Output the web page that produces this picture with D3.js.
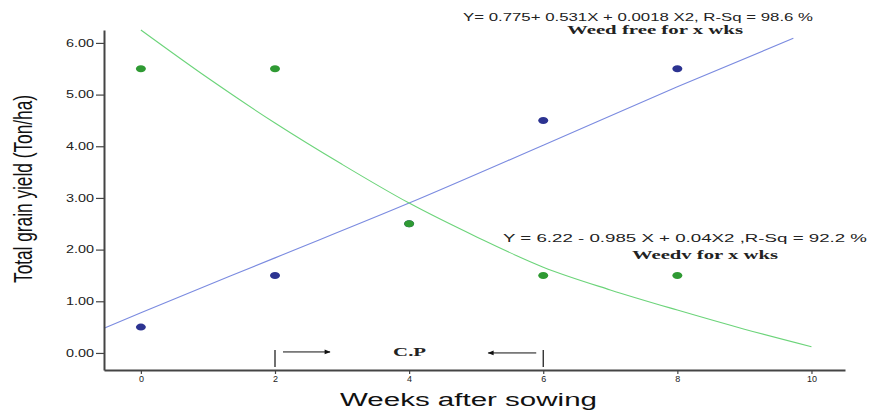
<!DOCTYPE html>
<html>
<head>
<meta charset="utf-8">
<script src="https://cdn.jsdelivr.net/npm/d3@7"></script>
<style>
  body { margin: 0; background: #fff; }
  svg { display: block; }
</style>
</head>
<body>
<div id="chart"></div>
<script>
// observed yields (Ton/ha) by weeks after sowing
var weeks = [0, 2, 4, 6, 8]
var weedFree = [0.5, 1.5, 2.5, 4.5, 5.5]
var weedy = [5.5, 5.5, 2.5, 1.5, 1.5]

// fitted curves
var weedFreeFitX = [-0.55, 0, 2, 4, 6, 8, 9.73]
var weedFreeFitY = [0.48, 0.78, 1.84, 2.9, 4.02, 5.15, 6.09]
var weedyFitX = [0, 1, 2, 3, 4, 5, 6, 7, 8, 9, 10]
var weedyFitY = [6.25, 5.32, 4.45, 3.65, 2.9, 2.25, 1.66, 1.22, 0.83, 0.46, 0.12]

var xTicks = [0, 2, 4, 6, 8, 10]
var yTicks = [0, 1, 2, 3, 4, 5, 6]
var cpWeeks = [2, 6]

var eqFree = 'Y= 0.775+ 0.531X + 0.0018 X2, R-Sq = 98.6 %'
var eqWeedy = 'Y = 6.22 - 0.985 X + 0.04X2 ,R-Sq = 92.2 %'

var margin = { top: 30, left: 104, right: 28, bottom: 43 }
var width = 873 - margin.left - margin.right
var height = 413 - margin.top - margin.bottom

var svg = d3.select('#chart')
  .append('svg')
  .attr('width', 873)
  .attr('height', 413)

var g = svg.append('g')
  .attr('transform', 'translate(' + margin.left + ',' + margin.top + ')')

var xPositionScale = d3.scaleLinear().domain([-0.55, 10.5]).range([0, width])
var yPositionScale = d3.scaleLinear().domain([-0.33, 6.25]).range([height, 0])

var line = d3.line()
  .x(function(d) { return xPositionScale(d[0]) })
  .y(function(d) { return yPositionScale(d[1]) })

// fit lines
g.append('path')
  .datum(d3.zip(weedFreeFitX, weedFreeFitY))
  .attr('d', line.curve(d3.curveMonotoneX))
  .attr('fill', 'none')
  .attr('stroke', '#7b8be0')
  .attr('stroke-width', 1.1)

g.append('path')
  .datum(d3.zip(weedyFitX, weedyFitY))
  .attr('d', line.curve(d3.curveMonotoneX))
  .attr('fill', 'none')
  .attr('stroke', '#6cd47a')
  .attr('stroke-width', 1.1)

// points
g.selectAll('.free-dot')
  .data(d3.zip(weeks, weedFree))
  .enter()
  .append('ellipse')
  .attr('class', 'free-dot')
  .attr('cx', function(d) { return xPositionScale(d[0]) })
  .attr('cy', function(d) { return yPositionScale(d[1]) })
  .attr('rx', 5)
  .attr('ry', 3.5)
  .attr('fill', '#2c3391')

g.selectAll('.weedy-dot')
  .data(d3.zip(weeks, weedy))
  .enter()
  .append('ellipse')
  .attr('class', 'weedy-dot')
  .attr('cx', function(d) { return xPositionScale(d[0]) })
  .attr('cy', function(d) { return yPositionScale(d[1]) })
  .attr('rx', 5)
  .attr('ry', 3.5)
  .attr('fill', '#2f9a33')

// axes
var xAxis = d3.axisBottom(xPositionScale).tickValues(xTicks).tickSize(4).tickSizeOuter(0)
g.append('g')
  .attr('class', 'axis x-axis')
  .attr('transform', 'translate(0,' + height + ')')
  .call(xAxis)

var yAxis = d3.axisLeft(yPositionScale).tickValues(yTicks).tickFormat(d3.format('.2f')).tickSize(8).tickSizeOuter(0)
g.append('g')
  .attr('class', 'axis y-axis')
  .call(yAxis)

g.selectAll('.axis .domain').attr('stroke', '#444').attr('stroke-width', 2)
g.selectAll('.axis .tick line').attr('stroke', '#444').attr('stroke-width', 1.2)
g.selectAll('.axis text')
  .attr('font-family', 'Liberation Sans, Arial, sans-serif')
  .attr('fill', '#222')
g.selectAll('.x-axis text').attr('font-size', 9).attr('y', 6).attr('dy', '0.71em')
g.selectAll('.y-axis text')
  .attr('font-size', 10)
  .attr('x', -10)
  .attr('textLength', 28)
  .attr('lengthAdjust', 'spacingAndGlyphs')

// critical period markers
svg.append('defs').append('marker')
  .attr('id', 'arrow')
  .attr('viewBox', '0 0 10 10')
  .attr('refX', 9)
  .attr('refY', 5)
  .attr('markerWidth', 7)
  .attr('markerHeight', 6)
  .attr('orient', 'auto')
  .append('path')
  .attr('d', 'M0,1 L10,5 L0,9 Z')
  .attr('fill', '#111')

var cpY = yPositionScale(0)
g.selectAll('.cp-tick')
  .data(cpWeeks)
  .enter()
  .append('line')
  .attr('class', 'cp-tick')
  .attr('x1', function(d) { return xPositionScale(d) })
  .attr('x2', function(d) { return xPositionScale(d) })
  .attr('y1', cpY - 3)
  .attr('y2', cpY + 14)
  .attr('stroke', '#111')
  .attr('stroke-width', 1.2)

g.append('line')
  .attr('x1', xPositionScale(cpWeeks[0]) + 8)
  .attr('x2', xPositionScale(cpWeeks[0]) + 55)
  .attr('y1', cpY - 1)
  .attr('y2', cpY - 1)
  .attr('stroke', '#111')
  .attr('marker-end', 'url(#arrow)')

g.append('line')
  .attr('x1', xPositionScale(cpWeeks[1]) - 7)
  .attr('x2', xPositionScale(cpWeeks[1]) - 55)
  .attr('y1', cpY)
  .attr('y2', cpY)
  .attr('stroke', '#111')
  .attr('marker-end', 'url(#arrow)')

g.append('text')
  .text('C.P')
  .attr('x', xPositionScale(d3.mean(cpWeeks)) - 16)
  .attr('y', cpY + 3)
  .attr('font-family', 'Liberation Serif, Times New Roman, serif')
  .attr('font-weight', 'bold')
  .attr('font-size', 13)
  .attr('fill', '#222')
  .attr('textLength', 33)
  .attr('lengthAdjust', 'spacingAndGlyphs')

// equations and labels
function label(text, x, y, size, serif, len) {
  svg.append('text')
    .text(text)
    .attr('x', x)
    .attr('y', y)
    .attr('font-family', serif ? 'Liberation Serif, Times New Roman, serif' : 'Liberation Sans, Arial, sans-serif')
    .attr('font-weight', serif ? 'bold' : 'normal')
    .attr('font-size', size)
    .attr('fill', '#222')
    .attr('textLength', len)
    .attr('lengthAdjust', 'spacingAndGlyphs')
}

label(eqFree, 463, 21, 11, false, 350)
label('Weed free for x wks', 567, 34, 12, true, 176)
label(eqWeedy, 503, 242, 11.5, false, 364)
label('Weedv for x wks', 632, 259, 12, true, 146)

// axis titles
svg.append('text')
  .text('Weeks after sowing')
  .attr('x', 340)
  .attr('y', 406)
  .attr('font-family', 'Liberation Sans, Arial, sans-serif')
  .attr('font-size', 18)
  .attr('fill', '#111')
  .attr('textLength', 257)
  .attr('lengthAdjust', 'spacingAndGlyphs')

svg.append('text')
  .text('Total grain yield (Ton/ha)')
  .attr('transform', 'translate(32,283) rotate(-90)')
  .attr('font-family', 'Liberation Sans, Arial, sans-serif')
  .attr('font-size', 25)
  .attr('fill', '#111')
  .attr('textLength', 188)
  .attr('lengthAdjust', 'spacingAndGlyphs')
</script>
</body>
</html>
